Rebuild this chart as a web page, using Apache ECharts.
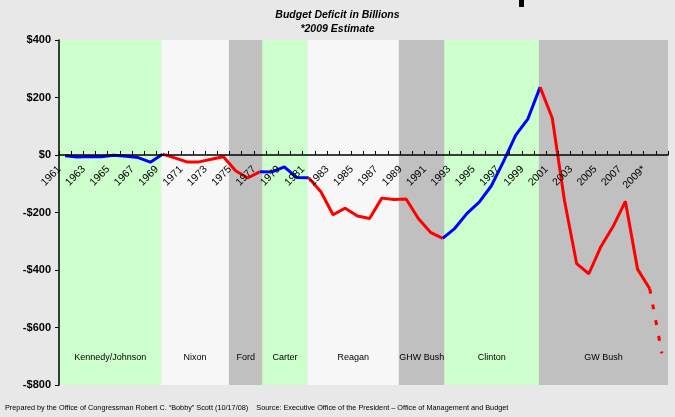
<!DOCTYPE html>
<html>
<head>
<meta charset="utf-8">
<script src="https://cdn.jsdelivr.net/npm/echarts@6/dist/echarts.min.js"></script>
<style>
  html, body { margin: 0; padding: 0; background: #e8e8e8; }
  #chart { width: 675px; height: 417px; }
</style>
</head>
<body>
<div id="chart"></div>
<script>
// fiscal years shown on the category axis (last slot holds the estimate end)
const years = [1961, 1962, 1963, 1964, 1965, 1966, 1967, 1968, 1969, 1970,
  1971, 1972, 1973, 1974, 1975, 1976, 1977, 1978, 1979, 1980,
  1981, 1982, 1983, 1984, 1985, 1986, 1987, 1988, 1989, 1990,
  1991, 1992, 1993, 1994, 1995, 1996, 1997, 1998, 1999, 2000,
  2001, 2002, 2003, 2004, 2005, 2006, 2007, 2008, 2009, 2010];
const tickLabels = ['1961', '1962', '1963', '1964', '1965', '1966', '1967', '1968', '1969', '1970',
  '1971', '1972', '1973', '1974', '1975', '1976', '1977', '1978', '1979', '1980',
  '1981', '1982', '1983', '1984', '1985', '1986', '1987', '1988', '1989', '1990',
  '1991', '1992', '1993', '1994', '1995', '1996', '1997', '1998', '1999', '2000',
  '2001', '2002', '2003', '2004', '2005', '2006', '2007', '2008', '2009*', '2010'];

// deficit (-) / surplus (+) in billions, 1961..2009
const deficits = [-3, -7, -5, -6, -1, -4, -9, -25, 3, -10,
  -24, -24, -15, -6, -55, -80, -58, -59, -41, -78,
  -79, -128, -208, -185, -212, -221, -150, -155, -153, -221,
  -269, -290, -255, -203, -164, -107, -22, 69, 126, 236,
  128, -158, -378, -413, -318, -248, -161, -397, -465];
// dashed estimate: 2009 -> end
const estimateYears = [2009, 2010];
const estimateValues = [-465, -690];

// line colour by stretch of years
const segments = [
  [1961, 1969, '#0000ff'],
  [1969, 1977, '#ff0000'],
  [1977, 1981, '#0000ff'],
  [1981, 1992, '#ff0000'],
  [1992, 2000, '#0000ff'],
  [2000, 2009, '#ff0000']
];

// administrations (fractional fiscal years)
const eraNames = ['Kennedy/Johnson', 'Nixon', 'Ford', 'Carter', 'Reagan', 'GHW Bush', 'Clinton', 'GW Bush'];
const eraEdges = [1960.5, 1968.9, 1974.45, 1977.2, 1980.9, 1988.4, 1992.15, 1999.9, 2010.5];
const eraColors = ['#ccffcc', '#f7f7f7', '#c0c0c0', '#ccffcc', '#f7f7f7', '#c0c0c0', '#ccffcc', '#c0c0c0'];

const chart = echarts.init(document.getElementById('chart'));

const pointsBetween = (a, b) => years
  .map((y, i) => [y, deficits[i]])
  .filter(p => p[0] >= a && p[0] <= b && p[1] !== undefined);

const lineSeries = segments.map(([a, b, color]) => ({
  type: 'line',
  xAxisIndex: 1,
  data: pointsBetween(a, b),
  symbol: 'none',
  z: 4,
  lineStyle: { color, width: 3 }
}));

const bandSeries = {
  type: 'line',
  xAxisIndex: 1,
  data: [],
  z: 1,
  silent: true,
  markArea: {
    silent: true,
    label: {
      position: 'insideBottom',
      distance: 23,
      color: '#000',
      fontSize: 9,
      fontFamily: 'Liberation Sans'
    },
    data: eraNames.map((name, i) => [
      { name, xAxis: eraEdges[i], itemStyle: { color: eraColors[i] } },
      { xAxis: eraEdges[i + 1] }
    ])
  }
};

const estimateSeries = {
  type: 'line',
  xAxisIndex: 1,
  data: estimateYears.map((y, i) => [y, estimateValues[i]]),
  symbol: 'none',
  z: 4,
  lineStyle: { color: '#ff0000', width: 3, type: [5, 11] }
};

// grid: top 40, bottom edge 385, so $0 sits 230px above the bottom
const zeroOffset = -230;

const option = {
  backgroundColor: '#e8e8e8',
  animation: false,
  title: [
    {
      text: 'Budget Deficit in Billions',
      left: 'center', top: 5,
      textStyle: { fontSize: 10.5, fontWeight: 'bold', fontStyle: 'italic', color: '#000', fontFamily: 'Liberation Sans' }
    },
    {
      text: '*2009 Estimate',
      left: 'center', top: 19,
      textStyle: { fontSize: 10.5, fontWeight: 'bold', fontStyle: 'italic', color: '#000', fontFamily: 'Liberation Sans' }
    }
  ],
  graphic: [
    { type: 'rect', left: 519, top: 0, shape: { width: 5, height: 7 }, style: { fill: '#000' } },
    {
      type: 'text', left: 5, top: 404,
      style: {
        text: 'Prepared by the Office of Congressman Robert C. \u201cBobby\u201d Scott (10/17/08)    Source: Executive Office of the President \u2013 Office of Management and Budget',
        fontSize: 7.3, fill: '#000', fontFamily: 'Liberation Sans'
      }
    }
  ],
  grid: { left: 59, right: 7, top: 40, bottom: 32 },
  xAxis: [
    {
      type: 'category',
      data: tickLabels,
      boundaryGap: true,
      offset: zeroOffset,
      axisLine: { onZero: false, lineStyle: { color: '#000', width: 1.5 } },
      axisTick: { show: true, interval: 0, inside: true, length: 4, lineStyle: { color: '#000', width: 1 } },
      axisLabel: {
        interval: 1, rotate: 45, margin: 7, padding: [0, 8, 0, 0],
        color: '#000', fontSize: 10.5, fontFamily: 'Liberation Sans'
      },
      splitLine: { show: false },
      z: 5
    },
    {
      type: 'value',
      min: 1960.5,
      max: 2010.5,
      show: false
    }
  ],
  yAxis: {
    type: 'value',
    min: -800,
    max: 400,
    interval: 200,
    axisLine: { show: true, lineStyle: { color: '#000', width: 1.5 } },
    axisTick: { show: true, length: 4, lineStyle: { color: '#000' } },
    axisLabel: {
      margin: 8,
      color: '#000',
      fontSize: 11,
      fontWeight: 'bold',
      fontFamily: 'Liberation Sans',
      formatter: v => (v < 0 ? '-$' + Math.abs(v) : '$' + v)
    },
    splitLine: { show: false },
    z: 5
  },
  series: [bandSeries, ...lineSeries, estimateSeries]
};

chart.setOption(option);
</script>
</body>
</html>
